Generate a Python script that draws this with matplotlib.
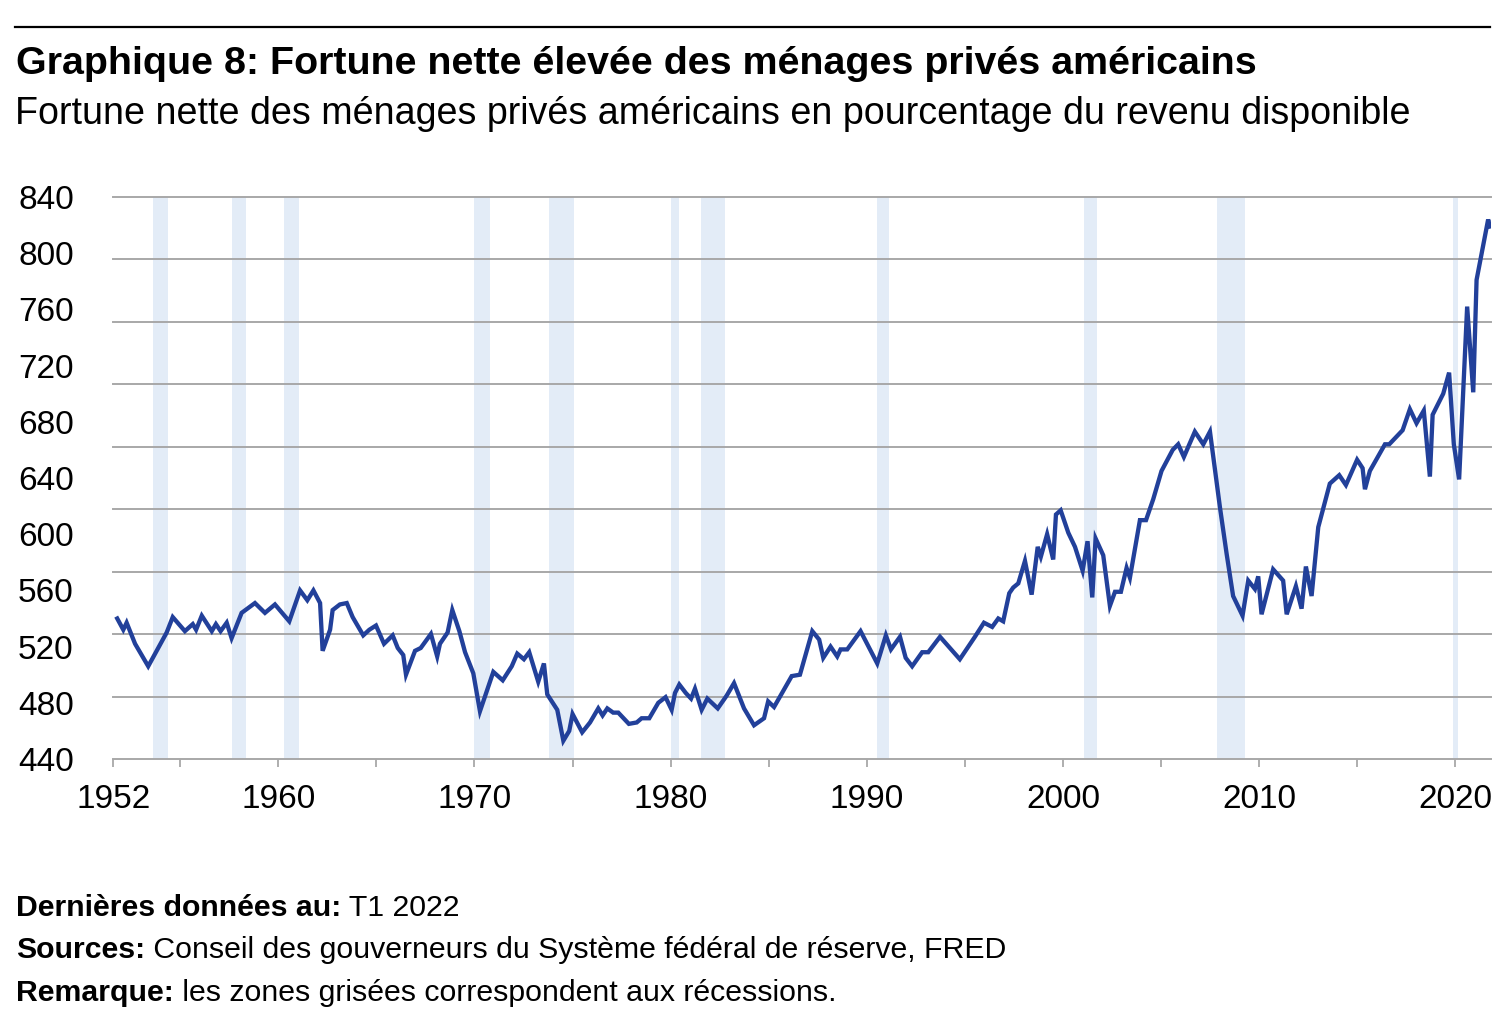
"""Net worth of US households as % of disposable income, recession bands shaded."""

import matplotlib.pyplot as plt
import numpy as np
from matplotlib.lines import Line2D

plt.rcParams["font.family"] = ["Liberation Sans", "DejaVu Sans"]

# values (decimal year, % of disposable income)
years = [
    1951.79, 1952.10, 1952.27, 1952.70, 1953.37, 1954.31, 1954.62, 1955.24, 1955.64, 1955.81,
    1956.10, 1956.61, 1956.82, 1957.06, 1957.37, 1957.62, 1958.13, 1958.81, 1959.32, 1959.83,
    1960.56, 1961.11, 1961.48, 1961.79, 1962.13, 1962.26, 1962.64, 1962.77, 1963.14, 1963.49,
    1963.79, 1964.33, 1964.64, 1964.98, 1965.39, 1965.83, 1966.09, 1966.37, 1966.51, 1966.97,
    1967.26, 1967.78, 1968.10, 1968.24, 1968.63, 1968.87, 1969.23, 1969.52, 1969.94, 1970.28,
    1970.96, 1971.44, 1971.90, 1972.18, 1972.52, 1972.79, 1973.25, 1973.54, 1973.71, 1974.22,
    1974.53, 1974.83, 1975.00, 1975.49, 1975.89, 1976.31, 1976.53, 1976.77, 1977.07, 1977.33,
    1977.87, 1978.27, 1978.52, 1978.91, 1979.37, 1979.74, 1980.05, 1980.22, 1980.44, 1980.77,
    1981.04, 1981.24, 1981.58, 1981.87, 1982.40, 1982.85, 1983.23, 1983.74, 1984.25, 1984.76,
    1984.97, 1985.27, 1986.17, 1986.59, 1987.22, 1987.57, 1987.78, 1988.15, 1988.49, 1988.66,
    1989.00, 1989.68, 1990.53, 1990.97, 1991.23, 1991.69, 1991.98, 1992.31, 1992.82, 1993.13,
    1993.73, 1994.74, 1995.51, 1995.97, 1996.39, 1996.70, 1996.95, 1997.26, 1997.46, 1997.72,
    1998.06, 1998.40, 1998.71, 1998.87, 1999.19, 1999.50, 1999.64, 1999.88, 2000.27, 2000.61,
    2001.00, 2001.25, 2001.49, 2001.66, 2002.05, 2002.39, 2002.65, 2002.95, 2003.24, 2003.41,
    2003.92, 2004.23, 2004.60, 2005.02, 2005.59, 2005.87, 2006.16, 2006.72, 2007.15, 2007.49,
    2008.00, 2008.34, 2008.67, 2009.15, 2009.44, 2009.78, 2009.95, 2010.12, 2010.71, 2011.22,
    2011.40, 2011.87, 2012.16, 2012.38, 2012.67, 2013.01, 2013.60, 2014.08, 2014.42, 2014.99,
    2015.27, 2015.39, 2015.64, 2016.41, 2016.63, 2017.31, 2017.68, 2018.02, 2018.39, 2018.70,
    2018.84, 2019.38, 2019.68, 2019.92, 2020.19, 2020.60, 2020.91, 2021.08, 2021.67, 2021.76,
]
net_worth_pct = [
    540, 532, 537, 522, 506, 530, 541, 531, 536, 532,
    542, 531, 536, 531, 537, 526, 544, 551, 544, 550,
    538, 560, 553, 560, 551, 517, 532, 546, 550, 551,
    541, 528, 532, 535, 522, 528, 519, 514, 500, 517,
    519, 529, 513, 522, 530, 546, 531, 516, 501, 474,
    502, 496, 506, 515, 511, 516, 495, 508, 486, 475,
    453, 460, 472, 459, 466, 476, 471, 476, 473, 473,
    465, 466, 469, 469, 480, 484, 475, 487, 493, 487,
    483, 490, 475, 483, 476, 485, 494, 476, 464, 469,
    481, 477, 499, 500, 531, 525, 512, 520, 513, 518,
    518, 531, 508, 528, 518, 527, 512, 506, 516, 516,
    527, 511, 527, 537, 534, 540, 538, 558, 562, 565,
    581, 557, 591, 584, 600, 582, 614, 617, 601, 591,
    574, 595, 555, 597, 585, 549, 559, 559, 576, 569,
    610, 610, 625, 645, 660, 664, 655, 673, 664, 673,
    619, 586, 556, 542, 567, 561, 570, 543, 575, 567,
    543, 563, 547, 577, 556, 605, 636, 642, 635, 653,
    647, 632, 645, 664, 664, 674, 689, 679, 688, 641,
    685, 700, 715, 664, 639, 762, 701, 781, 824, 819,
]

# NBER recessions (start, end) in decimal years
rec_start = [1953.60, 1957.66, 1960.29, 1969.97, 1973.80, 1980.00, 1981.54, 1990.53, 2001.07, 2007.86, 2019.89]
rec_end = [1954.36, 1958.34, 1961.05, 1970.77, 1975.07, 1980.44, 1982.77, 1991.12, 2001.71, 2009.27, 2020.13]

y_ticks = [440, 480, 520, 560, 600, 640, 680, 720, 760, 800, 840]
x_start, x_end = 1951.59, 2021.80
x_tick_pos = [x_start] + list(range(1955, 2021, 5))
x_tick_lbl = ["1952"] + [str(y) if y % 10 == 0 else "" for y in range(1955, 2021, 5)]

LINE = "#22409a"
BAND = "#e3ecf7"
GRID = "#a8a8a8"

W, H = 1512, 1023
fig = plt.figure(figsize=(W / 100, H / 100), dpi=100)
ax = fig.add_axes([113.3 / W, 1 - 759 / H, (1490.7 - 113.3) / W, (759 - 197) / H])

for a, b in zip(rec_start, rec_end):
    ax.axvspan(a, b, color=BAND, lw=0, zorder=0)

# the reference draws 10 evenly spaced grid lines, independent of the 11 labels
for v in np.linspace(440, 840, 10):
    ax.axhline(v, color=GRID, lw=1.4, zorder=1, clip_on=False)

ax.plot(years, net_worth_pct, color=LINE, lw=3.1, zorder=3, solid_joinstyle="miter")

ax.set_xlim(x_start, x_end)
ax.set_ylim(440, 840)
for s in ax.spines.values():
    s.set_visible(False)

ax.set_xticks(x_tick_pos)
ax.set_xticklabels(x_tick_lbl)
ax.tick_params(axis="x", direction="out", length=6, width=1.3, color=GRID,
               labelsize=24, pad=12, labelcolor="black")
ax.set_yticks(y_ticks)
ax.set_yticklabels([str(v) for v in y_ticks])
ax.tick_params(axis="y", length=0, labelsize=24, labelcolor="black")
for lbl in ax.get_yticklabels():
    lbl.set_horizontalalignment("left")
    lbl.set_x(-95.3 / (1490.7 - 113.3))
ax.yaxis.set_tick_params(pad=0)

# header
fig.add_artist(Line2D([15 / W, 1490 / W], [1 - 27 / H] * 2, color="black", lw=1.6))
fig.text(16 / W, 1 - 64 / H, "Graphique 8: Fortune nette élevée des ménages privés américains",
         fontsize=28.4, fontweight="bold", va="center")
fig.text(15 / W, 1 - 114 / H,
         "Fortune nette des ménages privés américains en pourcentage du revenu disponible",
         fontsize=27.1, va="center")

# footer
notes = [
    (908, "Dernières données au:", "T1 2022"),
    (950, "Sources:", "Conseil des gouverneurs du Système fédéral de réserve, FRED"),
    (993, "Remarque:", "les zones grisées correspondent aux récessions."),
]
for y_px, label, text in notes:
    t = fig.text(16 / W, 1 - y_px / H, label, fontsize=21.8, fontweight="bold", va="center")
    ax.annotate(" " + text, xy=(1, 0.5), xycoords=t, va="center", ha="left",
                fontsize=21.8, annotation_clip=False)

fig.savefig("out.png", dpi=100)
